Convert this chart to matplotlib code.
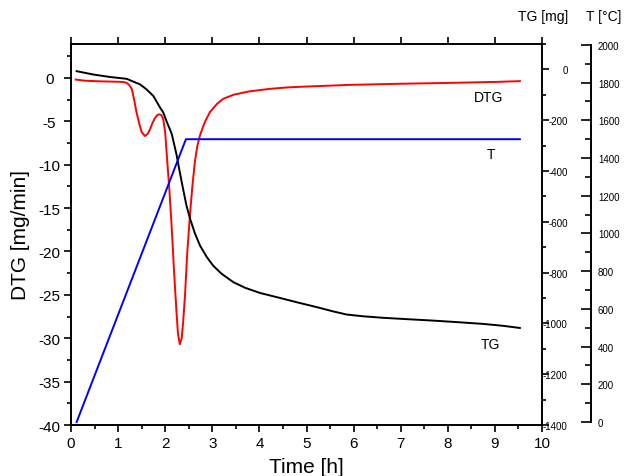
import numpy as np
import matplotlib
matplotlib.use("Agg")
import matplotlib.pyplot as plt
from matplotlib.ticker import MultipleLocator

plt.rcParams['font.family'] = ['Liberation Sans', 'DejaVu Sans']
plt.rcParams['axes.unicode_minus'] = False

# DTG curve [mg/min] vs time [h]
t_dtg = [0.1, 0.3, 0.6, 1.0, 1.12, 1.18, 1.24, 1.29, 1.34, 1.39, 1.45, 1.5, 1.57, 1.63,
         1.68, 1.73, 1.78, 1.83, 1.87, 1.92, 1.96, 2.0, 2.03, 2.09, 2.14, 2.19, 2.24,
         2.27, 2.31, 2.35, 2.38, 2.42, 2.47, 2.53, 2.58, 2.63, 2.68, 2.74, 2.8, 2.85,
         2.95, 3.1, 3.23, 3.45, 3.66, 3.8, 4.22, 4.6, 5.0, 5.92, 7.0, 8.05, 9.0, 9.53]
dtg = [-0.2, -0.33, -0.4, -0.45, -0.48, -0.58, -0.85, -1.27, -2.5, -3.95, -5.3, -6.26,
       -6.7, -6.45, -5.9, -5.2, -4.65, -4.3, -4.2, -4.3, -4.8, -6.3, -8.6, -13.0, -17.4,
       -22.5, -27.0, -29.4, -30.7, -30.0, -28.2, -25.1, -20.0, -15.5, -12.3, -9.7,
       -7.9, -6.6, -5.7, -5.0, -3.95, -3.0, -2.42, -1.95, -1.7, -1.55, -1.27, -1.1,
       -1.0, -0.81, -0.68, -0.58, -0.47, -0.38]

# TG curve [mg]
t_tg = [0.12, 0.47, 0.83, 1.18, 1.465, 1.6, 1.75, 1.89, 1.96, 2.03, 2.10, 2.14, 2.24,
        2.31, 2.38, 2.45, 2.53, 2.63, 2.74, 2.88, 3.02, 3.2, 3.45, 3.7, 4.01, 4.44,
        4.8, 5.22, 5.55, 5.85, 6.2, 6.63, 7.2, 7.69, 8.2, 8.75, 9.15, 9.53]
tg = [-7, -20, -30, -37, -59, -78, -105, -150, -170, -205, -236, -255, -335,
      -405, -471, -535, -589, -645, -694, -738, -773, -805, -838, -860, -880, -900,
      -917, -936, -952, -965, -972, -978, -984, -989, -995, -1002, -1009, -1018]

# temperature program [°C]
t_temp = [0.12, 2.44, 9.53]
temp = [0, 1500, 1500]

narrow = ['Liberation Sans Narrow', 'Liberation Sans']

W, H = 627, 477
fig = plt.figure(figsize=(W / 100, H / 100), dpi=100)
ax = fig.add_axes([71 / W, 1 - 426 / H, 471 / W, 381 / H])

ax.plot(t_dtg, dtg, color='#ff0000', lw=1.4, zorder=3)
ax.set_xlim(0, 10)
ax.set_ylim(-40, 3.9)
ax.xaxis.set_major_locator(MultipleLocator(1))
ax.xaxis.set_minor_locator(MultipleLocator(0.5))
ax.yaxis.set_major_locator(MultipleLocator(5))
ax.yaxis.set_minor_locator(MultipleLocator(2.5))
ax.tick_params(which='both', direction='out', width=1.2, labelsize=11)
ax.tick_params(which='major', length=5)
ax.tick_params(which='minor', length=3)
ax.tick_params(axis='x', top=True, pad=3)
ax.tick_params(axis='y', pad=10.5)
for tk in ax.yaxis.get_major_ticks():
    tk.label1.set_horizontalalignment('center')
ax.spines['right'].set_visible(False)
for s in ['left', 'top', 'bottom']:
    ax.spines[s].set_linewidth(1.4)
ax.set_xlabel('Time [h]', fontsize=15, labelpad=5)
ax.set_ylabel('DTG [mg/min]', fontsize=15, labelpad=6)

# TG axis
ax2 = ax.twinx()
ax2.plot(t_tg, tg, color='black', lw=1.4, zorder=2)
ax2.set_ylim(-1400, 100)
ax2.set_yticks(np.arange(-1400, 1, 200))
ax2.yaxis.set_minor_locator(MultipleLocator(100))
for s in ['left', 'top', 'bottom']:
    ax2.spines[s].set_visible(False)
ax2.spines['right'].set_linewidth(1.4)
ax2.tick_params(which='both', direction='out', width=1.2, labelsize=7)
ax2.tick_params(which='major', length=5, pad=13.5)
ax2.tick_params(which='minor', length=3)
for tk in ax2.yaxis.get_major_ticks():
    tk.label2.set_horizontalalignment('right')
    tk.label2.set_family(narrow)

# temperature axis
ax3 = ax.twinx()
ax3.plot(t_temp, temp, color='#0000ff', lw=1.4, zorder=1)
ax3.set_ylim(-16, 2005)
ax3.set_yticks(np.arange(0, 2001, 200))
ax3.yaxis.set_minor_locator(MultipleLocator(100))
for s in ['left', 'top', 'bottom']:
    ax3.spines[s].set_visible(False)
ax3.spines['right'].set_position(('axes', 520 / 471))
ax3.spines['right'].set_bounds(0, 2000)
ax3.spines['right'].set_linewidth(1.4)
ax3.tick_params(which='both', direction='in', width=1.2, labelsize=7)
ax3.tick_params(which='major', length=7, pad=5)
ax3.tick_params(which='minor', length=4)
for tk in ax3.yaxis.get_major_ticks():
    tk.label2.set_family(narrow)

fig.text(543 / W, 1 - 17 / H, 'TG [mg]', fontsize=10, ha='center', va='center')
fig.text(604 / W, 1 - 17 / H, 'T [°C]', fontsize=10, ha='center', va='center')

ax.text(0.8875, 0.861, 'DTG', transform=ax.transAxes, fontsize=10, ha='center', va='center')
ax.text(0.8917, 0.711, 'T', transform=ax.transAxes, fontsize=10, ha='center', va='center')
ax.text(0.8896, 0.2126, 'TG', transform=ax.transAxes, fontsize=10, ha='center', va='center')

fig.savefig('out.png', dpi=100)
